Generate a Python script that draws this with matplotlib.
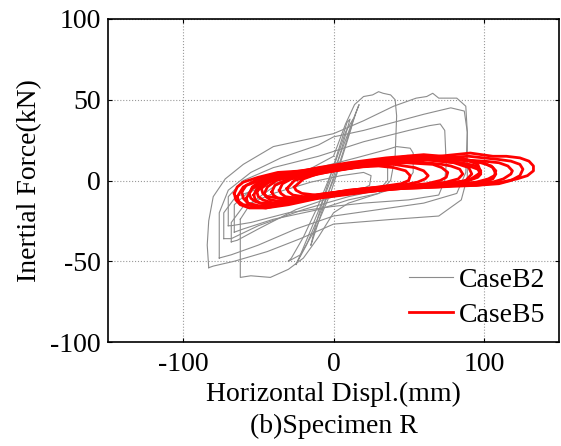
import matplotlib
matplotlib.use('Agg')
import matplotlib.pyplot as plt

plt.rcParams['font.family'] = ['Liberation Serif', 'DejaVu Serif']
plt.rcParams['axes.unicode_minus'] = False

# CaseB2 loops (gray) as (x mm, y kN) vertices
b2_outer_x = [-83, -84, -83, -80, -72, -60, -40, -20, 0, 20, 40, 55, 62, 66, 70, 82, 88, 89, 89, 85, 70, 40, 0, -22, -44, -66, -80, -83]
b2_outer_y = [-54, -40, -25, -10, 1, 10, 21, 25, 29, 37, 46, 51, 52, 54, 51, 51, 46, 30, 2, -12, -22, -24, -27, -36, -44, -50, -53, -54]

b2_second_x = [-76, -76, -70, -55, -35, -10, 0, 20, 40, 60, 78, 87, 89, 88, 82, 60, 30, 0, -25, -50, -68, -76]
b2_second_y = [-48, -20, -6, 5, 14, 22, 27, 31, 36, 41, 45, 43, 30, 5, -8, -14, -18, -22, -30, -40, -46, -48]

b2_para_x = [-62, -55, -40, -20, 0, 8, 14, 20, 26, 30, 33, 38, 41, 42, 41, 38, 30, 10, 0, -10, -20, -30, -42, -55, -62, -62]
b2_para_y = [-24, -14, -4, 5, 15, 35, 47, 52, 53, 55, 54, 53, 50, 40, 15, 0, -8, -14, -20, -35, -48, -55, -60, -59, -60, -24]

b2_mid1_x = [-70, -70, -60, -40, -10, 20, 50, 64, 71, 74, 75, 74, 70, 50, 20, 0, -30, -55, -68, -70]
b2_mid1_y = [-28, -10, 0, 8, 15, 24, 31, 34, 35, 31, 10, 0, -9, -12, -14, -16, -20, -26, -28, -28]

b2_mid2_x = [-66, -66, -55, -35, -10, 15, 35, 42, 51, 53, 53, 48, 30, 10, -10, -40, -60, -66]
b2_mid2_y = [-32, -15, -6, 2, 8, 14, 19, 21, 20, 17, 5, -2, -8, -12, -18, -24, -30, -32]

b2_mid3_x = [-73, -73, -65, -40, -15, 10, 30, 36, 36, 30, 10, -20, -50, -68, -73]
b2_mid3_y = [-36, -20, -10, -2, 4, 8, 11, 9, 0, -6, -10, -18, -28, -36, -36]

b2_mid4_x = [-68, -68, -60, -40, -15, 5, 20, 25, 24, 15, 0, -25, -50, -64, -68]
b2_mid4_y = [-38, -26, -16, -8, -1, 3, 5, 3, -3, -7, -10, -18, -30, -37, -38]

b2_steep1_x = [-25, -18, -8, 2, 10, 15, 17, 14, 6, -4, -14, -22, -25]
b2_steep1_y = [-52, -40, -18, 5, 28, 42, 47, 40, 20, -5, -28, -46, -52]

b2_steep2_x = [-15, -8, 0, 7, 11, 9, 3, -5, -12, -15]
b2_steep2_y = [-40, -20, 2, 25, 38, 36, 18, -6, -28, -40]

b2_steep3_x = [-30, -22, -12, -2, 6, 12, 13, 8, 0, -10, -20, -28, -30]
b2_steep3_y = [-50, -46, -30, -8, 15, 33, 38, 30, 8, -15, -35, -48, -50]

# CaseB5 loops (red)
b5_r1_x = [-66, -65, -62, -56, -45, -25, 0, 25, 50, 75, 95, 112, 122, 129, 133, 133, 130, 124, 115, 106, 91, 70, 49, 25, 0, -20, -37, -50, -60, -64, -66]
b5_r1_y = [-8, -12, -15, -17, -17, -13, -9, -6, -4, -3, -3, -1, 1, 3, 6, 9, 12, 14, 15, 15, 17, 15, 15, 11, 8, 6, 5, 2, -1, -4, -8]

b5_r2_x = [-61, -60, -57, -48, -30, -5, 20, 45, 70, 95, 110, 118, 124, 126, 124, 118, 110, 90, 70, 45, 20, 0, -20, -40, -52, -58, -61]
b5_r2_y = [-7, -11, -14, -16, -14, -10, -7, -5, -4, -3, -2, 0, 3, 7, 10, 12, 13, 15, 14, 12, 9, 6, 4, 2, -1, -3, -7]

b5_r3_x = [-56, -55, -52, -45, -30, -5, 20, 45, 70, 92, 106, 113, 118, 119, 116, 110, 100, 80, 55, 30, 5, -15, -35, -48, -54, -56]
b5_r3_y = [-8, -11, -13, -15, -13, -9, -7, -5, -4, -2, -1, 1, 4, 6, 9, 11, 12, 13, 13, 10, 7, 5, 3, 0, -4, -8]

b5_r4_x = [-51, -50, -47, -40, -25, 0, 25, 50, 75, 95, 103, 107, 108, 105, 98, 90, 70, 45, 20, 0, -20, -38, -47, -51]
b5_r4_y = [-7, -10, -12, -14, -12, -8, -6, -4, -3, -1, 1, 3, 6, 9, 11, 12, 14, 13, 10, 7, 4, 1, -3, -7]

b5_r5_x = [-46, -45, -42, -35, -20, 5, 30, 55, 78, 90, 96, 98, 96, 90, 82, 62, 40, 15, -5, -25, -38, -44, -46]
b5_r5_y = [-8, -10, -12, -13, -11, -7, -5, -4, -2, 0, 2, 4, 7, 9, 11, 13, 12, 9, 6, 3, 0, -4, -8]

b5_r6_x = [-41, -40, -37, -30, -15, 10, 35, 60, 75, 83, 86, 84, 78, 72, 52, 30, 8, -12, -30, -39, -41]
b5_r6_y = [-7, -9, -11, -12, -10, -6, -4, -3, -1, 1, 4, 7, 9, 10, 12, 10, 7, 4, 1, -3, -7]

b5_r7_x = [-36, -35, -32, -25, -10, 15, 40, 62, 71, 75, 76, 72, 66, 48, 25, 5, -15, -28, -34, -36]
b5_r7_y = [-6, -8, -10, -11, -9, -6, -4, -2, 0, 2, 5, 8, 10, 11, 10, 7, 4, 1, -2, -6]

b5_r8_x = [-31, -30, -27, -20, -5, 20, 45, 56, 61, 63, 60, 54, 40, 20, 0, -15, -26, -31]
b5_r8_y = [-5, -7, -9, -10, -8, -5, -3, -1, 1, 3, 6, 8, 10, 9, 6, 3, 0, -5]

b5_r9_x = [-26, -25, -21, -12, 5, 30, 45, 50, 51, 48, 40, 30, 10, -8, -20, -26]
b5_r9_y = [-4, -6, -8, -9, -7, -4, -2, 0, 3, 6, 8, 9, 8, 5, 1, -4]

b5_r10_x = [-64, -63, -60, -50, -35, -10, 20, 50, 80, 100, 106, 108, 106, 100, 88, 65, 40, 10, -15, -35, -50, -60, -64]
b5_r10_y = [-10, -13, -15, -16, -14, -10, -6, -4, -3, -1, 1, 4, 8, 11, 13, 15, 14, 10, 7, 4, 1, -4, -10]

b5_r11_x = [-58, -57, -54, -45, -30, -10, 15, 40, 65, 85, 95, 98, 95, 85, 65, 40, 15, -10, -30, -45, -54, -58]
b5_r11_y = [-11, -14, -16, -17, -15, -11, -8, -5, -3, -1, 2, 6, 9, 11, 13, 13, 10, 6, 3, 0, -5, -11]

b5_r12_x = [-53, -52, -49, -40, -20, 0, 25, 50, 75, 88, 92, 90, 80, 60, 35, 10, -10, -30, -45, -51, -53]
b5_r12_y = [-9, -12, -14, -14, -12, -9, -6, -4, -2, 0, 4, 8, 11, 13, 12, 9, 6, 3, -1, -5, -9]

b5_r13_x = [-48, -47, -44, -35, -15, 10, 40, 70, 90, 98, 96, 85, 60, 35, 10, -10, -30, -42, -48]
b5_r13_y = [-5, -8, -10, -11, -10, -7, -5, -3, 0, 5, 10, 14, 16, 14, 11, 8, 4, 0, -5]

b2_loops = [
    (b2_outer_x, b2_outer_y), (b2_second_x, b2_second_y), (b2_para_x, b2_para_y),
    (b2_mid1_x, b2_mid1_y), (b2_mid2_x, b2_mid2_y), (b2_mid3_x, b2_mid3_y),
    (b2_mid4_x, b2_mid4_y), (b2_steep1_x, b2_steep1_y), (b2_steep2_x, b2_steep2_y),
    (b2_steep3_x, b2_steep3_y),
]
b5_loops = [
    (b5_r1_x, b5_r1_y), (b5_r10_x, b5_r10_y), (b5_r2_x, b5_r2_y), (b5_r3_x, b5_r3_y),
    (b5_r4_x, b5_r4_y), (b5_r5_x, b5_r5_y), (b5_r6_x, b5_r6_y), (b5_r7_x, b5_r7_y),
    (b5_r8_x, b5_r8_y), (b5_r9_x, b5_r9_y), (b5_r11_x, b5_r11_y), (b5_r12_x, b5_r12_y),
    (b5_r13_x, b5_r13_y),
]

fig = plt.figure(figsize=(5.61, 4.46), dpi=100)
ax = fig.add_axes([108 / 561, 104 / 446, 451 / 561, 323 / 446])

for i, (xs, ys) in enumerate(b2_loops):
    ax.plot(xs, ys, color='#8c8c8c', lw=0.8, label='CaseB2' if i == 0 else None)
for i, (xs, ys) in enumerate(b5_loops):
    ax.plot(xs, ys, color='#ff0000', lw=2.0, solid_joinstyle='round',
            label='CaseB5' if i == 0 else None)

ax.set_xlim(-150, 150)
ax.set_ylim(-100, 100)
ax.set_xticks([-100, 0, 100])
ax.set_yticks([-100, -50, 0, 50, 100])
ax.grid(True, color='#999999', linestyle=':', linewidth=0.8)
ax.tick_params(direction='in', top=True, right=True, length=3, labelsize=20)
ax.tick_params(axis='x', pad=7)
ax.tick_params(axis='y', pad=5)
for s in ax.spines.values():
    s.set_linewidth(1.2)

ax.set_xlabel('Horizontal Displ.(mm)\n(b)Specimen R', fontsize=20, linespacing=1.35, labelpad=4)
ax.set_ylabel('Inertial Force(kN)', fontsize=20, labelpad=6)

ax.legend(loc='lower right', frameon=False, fontsize=20, handlelength=1.6,
          handletextpad=0.2, borderaxespad=0.1, labelspacing=0.35)

fig.savefig('out.png', dpi=100)
